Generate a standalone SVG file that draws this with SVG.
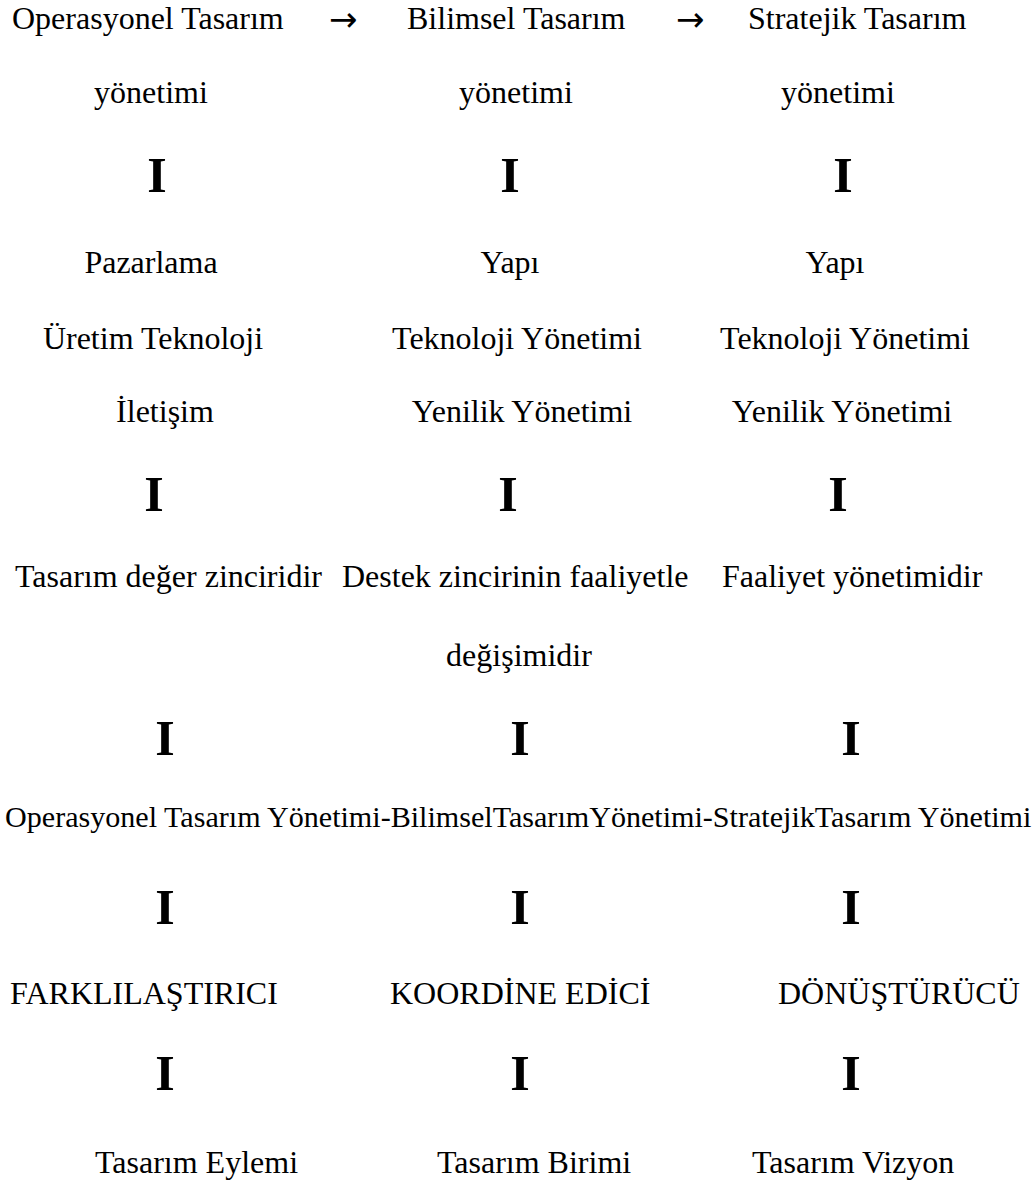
<svg xmlns="http://www.w3.org/2000/svg" width="1036" height="1185" viewBox="0 0 1036 1185">
<style>
text{font-family:"Liberation Serif","Times New Roman",serif;font-size:32px;fill:#000}
.m{text-anchor:middle}
.bar{font-weight:bold;font-size:50px;text-anchor:middle}
.arr{font-family:"DejaVu Sans",sans-serif;font-size:34px}
.long{font-size:30.1px}
</style>
<rect width="1036" height="1185" fill="#fff"/>
<g id="n-op"><text x="12" y="29">Operasyonel Tasarım</text><text x="151" y="103" class="m">yönetimi</text></g>
<g id="n-bil"><text x="407" y="29">Bilimsel Tasarım</text><text x="516" y="103" class="m">yönetimi</text></g>
<g id="n-str"><text x="748" y="29">Stratejik Tasarım</text><text x="838" y="103" class="m">yönetimi</text></g>
<g id="n-c1a"><text x="151" y="273" class="m">Pazarlama</text><text x="153" y="349" class="m">Üretim Teknoloji</text><text x="165" y="422" class="m">İletişim</text></g>
<g id="n-c2a"><text x="510" y="273" class="m">Yapı</text><text x="517" y="349" class="m">Teknoloji Yönetimi</text><text x="522" y="422" class="m">Yenilik Yönetimi</text></g>
<g id="n-c3a"><text x="835" y="273" class="m">Yapı</text><text x="845" y="349" class="m">Teknoloji Yönetimi</text><text x="842" y="422" class="m">Yenilik Yönetimi</text></g>
<g id="n-c1b"><text x="15" y="587">Tasarım değer zinciridir</text></g>
<g id="n-c2b"><text x="342" y="587">Destek zincirinin faaliyetle</text><text x="519" y="666" class="m">değişimidir</text></g>
<g id="n-c3b"><text x="722" y="587">Faaliyet yönetimidir</text></g>
<g id="n-long"><text x="5" y="827" class="long">Operasyonel Tasarım Yönetimi-BilimselTasarımYönetimi-StratejikTasarım Yönetimi</text></g>
<g id="n-c1c"><text x="10" y="1004">FARKLILAŞTIRICI</text></g>
<g id="n-c2c"><text x="390" y="1004">KOORDİNE EDİCİ</text></g>
<g id="n-c3c"><text x="778" y="1004">DÖNÜŞTÜRÜCÜ</text></g>
<g id="n-c1d"><text x="95" y="1173">Tasarım Eylemi</text></g>
<g id="n-c2d"><text x="437" y="1173">Tasarım Birimi</text></g>
<g id="n-c3d"><text x="752" y="1173">Tasarım Vizyon</text></g>
<g id="connectors">
<text x="329" y="31" class="arr">→</text>
<text x="676" y="31" class="arr">→</text>
<text x="157" y="192" class="bar">I</text><text x="510" y="192" class="bar">I</text><text x="843" y="192" class="bar">I</text>
<text x="154" y="511" class="bar">I</text><text x="508" y="511" class="bar">I</text><text x="838" y="511" class="bar">I</text>
<text x="165" y="755" class="bar">I</text><text x="520" y="755" class="bar">I</text><text x="851" y="755" class="bar">I</text>
<text x="165" y="924" class="bar">I</text><text x="520" y="924" class="bar">I</text><text x="851" y="924" class="bar">I</text>
<text x="165" y="1090" class="bar">I</text><text x="520" y="1090" class="bar">I</text><text x="851" y="1090" class="bar">I</text>
</g>
</svg>
